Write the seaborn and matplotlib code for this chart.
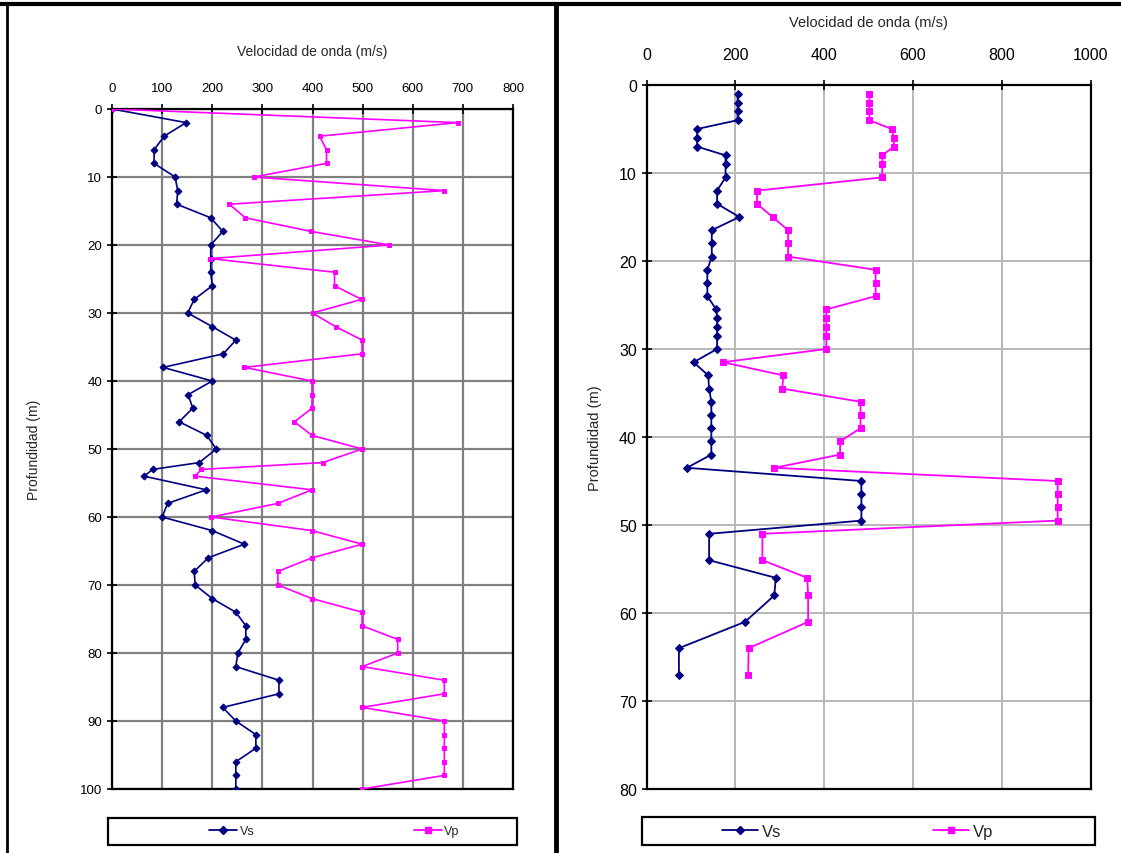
import matplotlib
matplotlib.use("Agg")
import matplotlib.pyplot as plt
import seaborn as sns
import pandas as pd
from matplotlib.lines import Line2D
from matplotlib.patches import Rectangle

# left profile (0-100 m)
depth_l = [0, 2, 4, 6, 8, 10, 12, 14, 16, 18, 20, 22, 24, 26, 28, 30, 32, 34, 36, 38,
           40, 42, 44, 46, 48, 50, 52, 53, 54, 56, 58, 60, 62, 64, 66, 68, 70, 72, 74,
           76, 78, 80, 82, 84, 86, 88, 90, 92, 94, 96, 98, 100]
vs_l = [0, 148, 104, 84, 84, 126, 131, 129, 197, 221, 197, 197, 197, 200, 164, 151, 200,
        247, 222, 102, 200, 152, 161, 134, 189, 208, 174, 81, 64, 188, 111, 100, 200, 264,
        192, 164, 166, 200, 247, 267, 267, 251, 247, 333, 333, 221, 247, 287, 287, 247,
        247, 247]
vp_l = [0, 690, 414, 428, 428, 283, 663, 234, 266, 397, 553, 196, 444, 444, 498, 400, 446,
        499, 499, 264, 399, 399, 399, 364, 399, 499, 420, 178, 166, 399, 331, 198, 399, 499,
        399, 331, 331, 399, 499, 499, 570, 570, 499, 663, 663, 499, 663, 663, 663, 663,
        663, 499]

# right profile (0-80 m)
depth_r = [1, 2, 3, 4, 5, 6, 7, 8, 9, 10.5, 12, 13.5, 15, 16.5, 18, 19.5, 21, 22.5, 24,
           25.5, 26.5, 27.5, 28.5, 30, 31.5, 33, 34.5, 36, 37.5, 39, 40.5, 42, 43.5, 45,
           46.5, 48, 49.5, 51, 54, 56, 58, 61, 64, 67]
vs_r = [205, 205, 205, 205, 114, 114, 114, 178, 178, 178, 159, 159, 209, 147, 147, 147,
        137, 137, 137, 157, 159, 159, 159, 159, 106, 139, 141, 146, 146, 146, 146, 146, 91,
        484, 484, 484, 484, 141, 141, 291, 288, 222, 73, 73]
vp_r = [502, 502, 502, 502, 552, 557, 557, 531, 531, 531, 249, 249, 284, 319, 319, 319,
        516, 516, 516, 405, 405, 405, 405, 405, 172, 308, 306, 482, 482, 482, 436, 436, 288,
        926, 926, 926, 926, 261, 261, 362, 364, 364, 230, 229]

VS_COL = "#000080"
VP_COL = "#ff00ff"

sns.set_style("white")
plt.rcParams["font.family"] = ["Liberation Sans", "DejaVu Sans"]

fig = plt.figure(figsize=(11.21, 8.54), dpi=100)


def profile(ax, depth, vs, vp, xmax, xstep, ymax, fs, grid_col, grid_lw, lw, ms, pad):
    df = pd.DataFrame({"depth": depth, "Vs": vs, "Vp": vp})
    sns.lineplot(data=df, x="Vs", y="depth", sort=False, estimator=None, ax=ax,
                 color=VS_COL, marker="D", markersize=ms, markeredgecolor=VS_COL,
                 linewidth=lw, zorder=3)
    sns.lineplot(data=df, x="Vp", y="depth", sort=False, estimator=None, ax=ax,
                 color=VP_COL, marker="s", markersize=ms, markeredgecolor=VP_COL,
                 linewidth=lw, zorder=3)
    ax.set_xlim(0, xmax)
    ax.set_ylim(ymax, 0)
    ax.set_xticks(range(0, xmax + 1, xstep))
    ax.set_yticks(range(0, ymax + 1, 10))
    ax.xaxis.tick_top()
    ax.xaxis.set_label_position("top")
    ax.grid(True, color=grid_col, linewidth=grid_lw, zorder=0)
    ax.set_axisbelow(True)
    for s in ax.spines.values():
        s.set_color("black")
        s.set_linewidth(1.6)
    ax.tick_params(direction="inout", length=7, width=1.2, labelsize=fs, colors="black",
                   top=True, left=True, bottom=False, right=False)
    ax.tick_params(axis="x", pad=pad)
    ax.set_ylabel("Profundidad (m)", fontsize=fs)
    ax.set_xlabel("Velocidad de onda (m/s)", fontsize=fs)


ax1 = fig.add_axes([112 / 1121, 1 - 790 / 854, 401 / 1121, 680 / 854])
profile(ax1, depth_l, vs_l, vp_l, 800, 100, 100, 9.5, "#808080", 1.6, 1.2, 3.5, 7)
ax1.set_xlabel("Velocidad de onda (m/s)", fontsize=10)
ax1.set_ylabel("Profundidad (m)", fontsize=10)
ax1.xaxis.labelpad = 20
ax1.yaxis.labelpad = 28

ax2 = fig.add_axes([646.5 / 1121, 1 - 790 / 854, 444 / 1121, 704 / 854])
profile(ax2, depth_r, vs_r, vp_r, 1000, 200, 80, 11.5, "#b8b8b8", 1.4, 1.3, 4, 13)
ax2.set_xlabel("Velocidad de onda (m/s)", fontsize=10.5)
ax2.set_ylabel("Profundidad (m)", fontsize=10.5)
ax2.xaxis.labelpad = 15
ax2.yaxis.labelpad = 12


def legend_box(ax, fs, spacing, ypos, xc):
    ax.add_patch(Rectangle((-0.01, ypos - 0.042), 1.02, 0.04, transform=ax.transAxes,
                           fill=False, edgecolor="black", linewidth=1.6, clip_on=False))
    handles = [Line2D([], [], color=VS_COL, marker="D", markersize=4, linewidth=1.3),
               Line2D([], [], color=VP_COL, marker="s", markersize=4, linewidth=1.3)]
    ax.legend(handles, ["Vs", "Vp"], loc="center", bbox_to_anchor=(xc, ypos - 0.022),
              ncol=2, frameon=False, fontsize=fs, columnspacing=spacing,
              handlelength=2.2, handletextpad=0.2)


legend_box(ax1, 9, 12.8, -0.04, 0.555)
legend_box(ax2, 12, 9.1, -0.038, 0.475)

# frame lines of the composite picture
fig.add_artist(Line2D([0, 1], [1 - 5 / 854] * 2, color="black", linewidth=3,
                      transform=fig.transFigure))
fig.add_artist(Line2D([7 / 1121] * 2, [0, 1 - 5 / 854], color="black", linewidth=2,
                      transform=fig.transFigure))
fig.add_artist(Line2D([556 / 1121] * 2, [0, 1 - 5 / 854], color="black", linewidth=3.5,
                      transform=fig.transFigure))

fig.savefig("out.png", dpi=100)
